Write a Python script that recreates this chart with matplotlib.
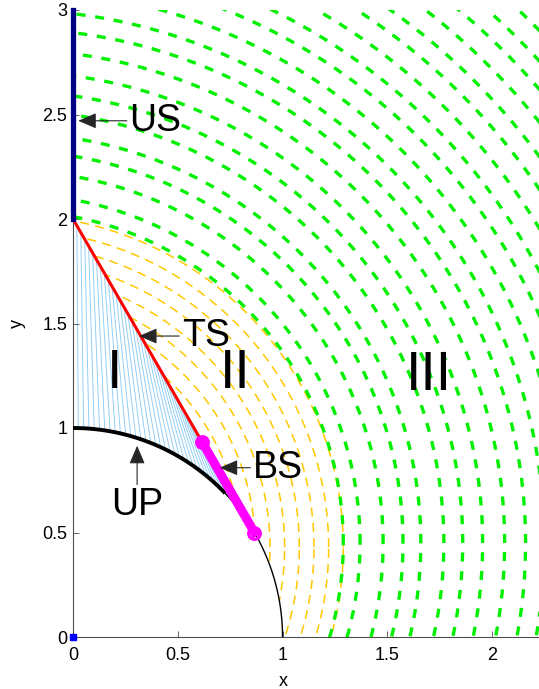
import numpy as np
import matplotlib
matplotlib.use('Agg')
import matplotlib.pyplot as plt
from matplotlib.patches import Polygon
from matplotlib.ticker import FormatStrFormatter

plt.rcParams['font.family'] = ['Liberation Sans', 'DejaVu Sans']
plt.rcParams['lines.scale_dashes'] = False

# Geometry (TS and BS both lie on the tangent at 30 deg)
ts_x = [0.0, 0.616]
ts_y = [2.0, 0.933]
bs_x = [0.616, 0.866]
bs_y = [0.933, 0.5]
us_x = [0.0, 0.0]
us_y = [2.0, 3.0]
up_deg = [44, 90]        # thick part of the unit circle
fan_deg = [90, 42]       # fan lines start on UP ...
n_fan = 34               # ... and end on TS

# Level curves of region II (yellow) and region III (green): circle arcs
yel_center = (-0.30, 0.43)
yel_r = [1.59, 1.52, 1.45, 1.38, 1.31, 1.24, 1.17, 1.10]
grn_center = (-0.30, 0.45)
grn_r = [1.59, 1.67, 1.78, 1.875, 1.96, 2.07, 2.16, 2.255, 2.36, 2.46, 2.55,
         2.65, 2.75, 2.84, 2.94, 3.04, 3.13, 3.23, 3.33, 3.42, 3.52, 3.62]

# Text labels
region_labels = ['I', 'II', 'III']
region_pos = [(0.196, 1.26), (0.775, 1.26), (1.70, 1.25)]
arrow_labels = ['US', 'TS', 'BS']
arrow_tips = [(0.025, 2.47), (0.315, 1.44), (0.70, 0.81)]
arrow_text = [(0.27, 2.47), (0.52, 1.44), (0.86, 0.81)]

fig = plt.figure(figsize=(5.39, 6.89), dpi=100)
ax = fig.add_axes([73 / 539, 52 / 689, 466 / 539, 627 / 689])

t = np.linspace(0, 2 * np.pi, 721)

# fan of characteristics in region I
a = np.radians(np.linspace(fan_deg[0], fan_deg[1], n_fan))
s = np.linspace(0, 1, n_fan)
for ai, si in zip(a, s):
    xt = ts_x[0] + si * (ts_x[1] - ts_x[0])
    yt = ts_y[0] + si * (ts_y[1] - ts_y[0])
    ax.plot([np.cos(ai), xt], [np.sin(ai), yt], color='#8ccbf5', lw=0.65, zorder=1)

# clip region II: right of TS/BS, outside the unit circle
arc = np.radians(np.linspace(0, 30, 31))
verts = [(0, 2), (0, 4), (3, 4), (3, 0)] + list(zip(np.cos(arc), np.sin(arc))) + [(0.866, 0.5)]
clip2 = Polygon(verts, closed=True, transform=ax.transData, fill=False, visible=False)
ax.add_patch(clip2)

for r in yel_r:
    ln, = ax.plot(yel_center[0] + r * np.cos(t), yel_center[1] + r * np.sin(t),
                  color='#ffc800', lw=1.1, dashes=(6.5, 4.5), zorder=2)
    ln.set_clip_path(clip2)

for r in grn_r:
    ax.plot(grn_center[0] + r * np.cos(t), grn_center[1] + r * np.sin(t),
            color='#00f000', lw=2.4, dashes=(6.5, 7), dash_capstyle='butt', zorder=3)

# unit circle and the UP part
q = np.radians(np.linspace(0, 90, 200))
ax.plot(np.cos(q), np.sin(q), color='k', lw=1.0, zorder=4)
u = np.radians(np.linspace(up_deg[0], up_deg[1], 100))
ax.plot(np.cos(u), np.sin(u), color='k', lw=2.8, zorder=4)

ax.plot(ts_x, ts_y, color='red', lw=2.2, zorder=5)
ax.plot(bs_x, bs_y, color='magenta', lw=6.5, zorder=6)
ax.plot(bs_x, bs_y, 'o', color='magenta', mfc='none', mew=2.2, ms=8.5, zorder=6)
ax.plot(us_x, us_y, color='#000080', lw=3.8, zorder=6, clip_on=False)
ax.plot([0], [0], 's', color='blue', ms=5, zorder=7, clip_on=False)

for lab, (x, y) in zip(region_labels, region_pos):
    ax.text(x, y, lab, fontsize=40, ha='center', va='center', zorder=8)

aprops = dict(arrowstyle='-|>,head_length=0.7,head_width=0.3', color='0.15', lw=0.8,
              shrinkA=0, shrinkB=0, mutation_scale=16)
for lab, tip, txt in zip(arrow_labels, arrow_tips, arrow_text):
    ax.annotate(lab, xy=tip, xytext=txt, fontsize=27, ha='left', va='center',
                arrowprops=aprops, zorder=8)
ax.annotate('UP', xy=(0.306, 0.915), xytext=(0.306, 0.63), fontsize=27,
            ha='center', va='center', arrowprops=aprops, zorder=8)

ax.set_xlim(0, 2.224)
ax.set_ylim(0, 3)
ax.set_xticks([0, 0.5, 1, 1.5, 2])
ax.set_yticks([0, 0.5, 1, 1.5, 2, 2.5, 3])
ax.xaxis.set_major_formatter(FormatStrFormatter('%g'))
ax.yaxis.set_major_formatter(FormatStrFormatter('%g'))
ax.tick_params(direction='in', length=4, width=0.6, labelsize=13, color='0.3')
ax.tick_params(axis='x', pad=7)
ax.tick_params(axis='y', pad=4)
for side in ['top', 'right']:
    ax.spines[side].set_visible(False)
for side in ['left', 'bottom']:
    ax.spines[side].set_color('0.3')
    ax.spines[side].set_linewidth(0.8)

ax.set_xlabel('x', fontsize=13)
ax.set_ylabel('y', fontsize=13)
ax.xaxis.set_label_coords(0.4506, -0.057)
ax.yaxis.set_label_coords(-0.10, 0.5)

fig.savefig('out.png', dpi=100)
